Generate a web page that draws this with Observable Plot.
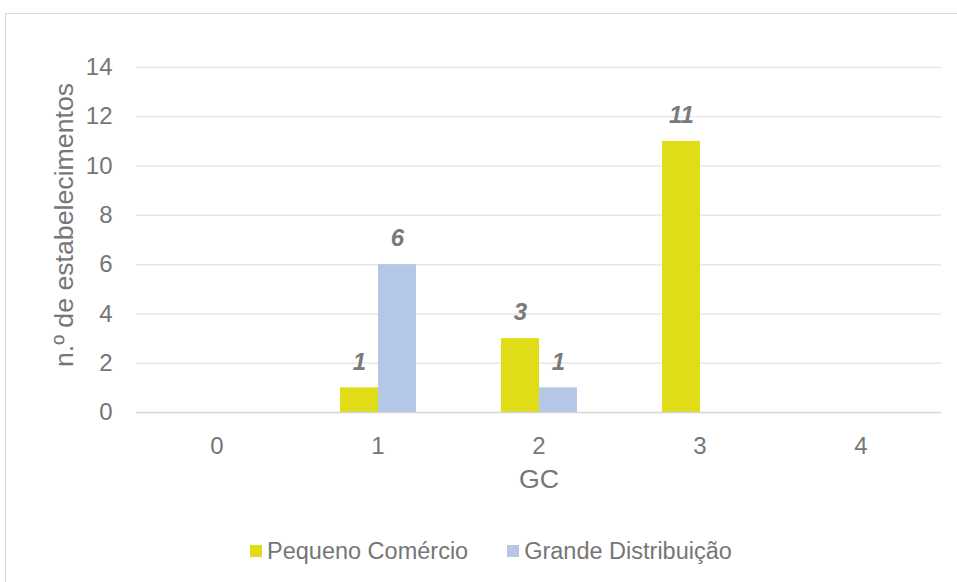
<!DOCTYPE html>
<html>
<head>
<meta charset="utf-8">
<script src="https://cdn.jsdelivr.net/npm/d3@7"></script>
<script src="https://cdn.jsdelivr.net/npm/@observablehq/plot@0.6"></script>
<style>
  body { margin: 0; background: #fff; font-family: "Liberation Sans", Arial, sans-serif; }
  #wrap { position: relative; width: 957px; height: 582px; overflow: hidden; background: #fff; }
  #frame { position: absolute; left: 5px; top: 13px; width: 980px; height: 600px; border: 1px solid #d9d9d9; }
  #chart { position: absolute; left: 0; top: 0; }
  #legend { position: absolute; left: 250px; top: 537px; display: flex; gap: 39px; font-size: 23.5px; line-height: 28px; color: #767676; white-space: nowrap; }
  .item { display: flex; align-items: center; }
  .sw { width: 12px; height: 12px; margin-right: 5px; }
  #chart g[aria-label="y-axis label"] { font-size: 26.7px; translate: 0px -15px; }
  #chart g[aria-label="fx-axis label"] { font-size: 26.7px; translate: 0px -2px; }
</style>
</head>
<body>
<div id="wrap">
  <div id="frame"></div>
  <div id="chart"></div>
  <div id="legend"></div>
</div>
<script>
const categories = [0, 1, 2, 3, 4];
const series = ["Pequeno Comércio", "Grande Distribuição"];
const pequeno = [0, 1, 3, 11, 0];
const grande = [0, 6, 1, 0, 0];
const yTicks = [0, 2, 4, 6, 8, 10, 12, 14];
const colors = ["#E1DC18", "#B4C7E7"];

const data = categories.flatMap((c, i) => [
  {gc: c, s: series[0], v: pequeno[i]},
  {gc: c, s: series[1], v: grande[i]}
]);

const chart = Plot.plot({
  width: 957,
  height: 520,
  marginLeft: 135,
  marginRight: 16,
  marginTop: 67,
  marginBottom: 108,
  style: {fontFamily: "'Liberation Sans', Arial, sans-serif", fontSize: "24px", color: "#767676", background: "transparent", overflow: "visible"},
  fx: {domain: categories, padding: 0, label: "GC", labelAnchor: "center", labelOffset: 77, tickSize: 0, tickPadding: 24, labelArrow: "none"},
  x: {domain: series, paddingInner: 0, paddingOuter: 1.09, axis: null},
  y: {domain: [0, 14], ticks: yTicks, tickSize: 0, tickPadding: 24, label: "n.º de estabelecimentos", labelAnchor: "center", labelOffset: 82, labelArrow: "none"},
  color: {domain: series, range: colors},
  marks: [
    Plot.ruleY(yTicks.slice(1), {stroke: "#e8e8e8", strokeWidth: 1.5}),
    Plot.barY(data, {fx: "gc", x: "s", y: "v", fill: "s"}),
    Plot.ruleY([0], {stroke: "#d4d4d4", strokeWidth: 1.5}),
    Plot.text(data.filter(d => d.v > 0), {fx: "gc", x: "s", y: "v", text: d => String(d.v), dy: -26, fontWeight: "bold", fontStyle: "italic", fill: "#7a7a7a", fontSize: 24})
  ]
});
document.getElementById("chart").appendChild(chart);

const legend = document.getElementById("legend");
series.forEach((s, i) => {
  const item = document.createElement("div");
  item.className = "item";
  const sw = document.createElement("span");
  sw.className = "sw";
  sw.style.background = colors[i];
  const t = document.createElement("span");
  t.textContent = s;
  item.appendChild(sw);
  item.appendChild(t);
  legend.appendChild(item);
});
</script>
</body>
</html>
